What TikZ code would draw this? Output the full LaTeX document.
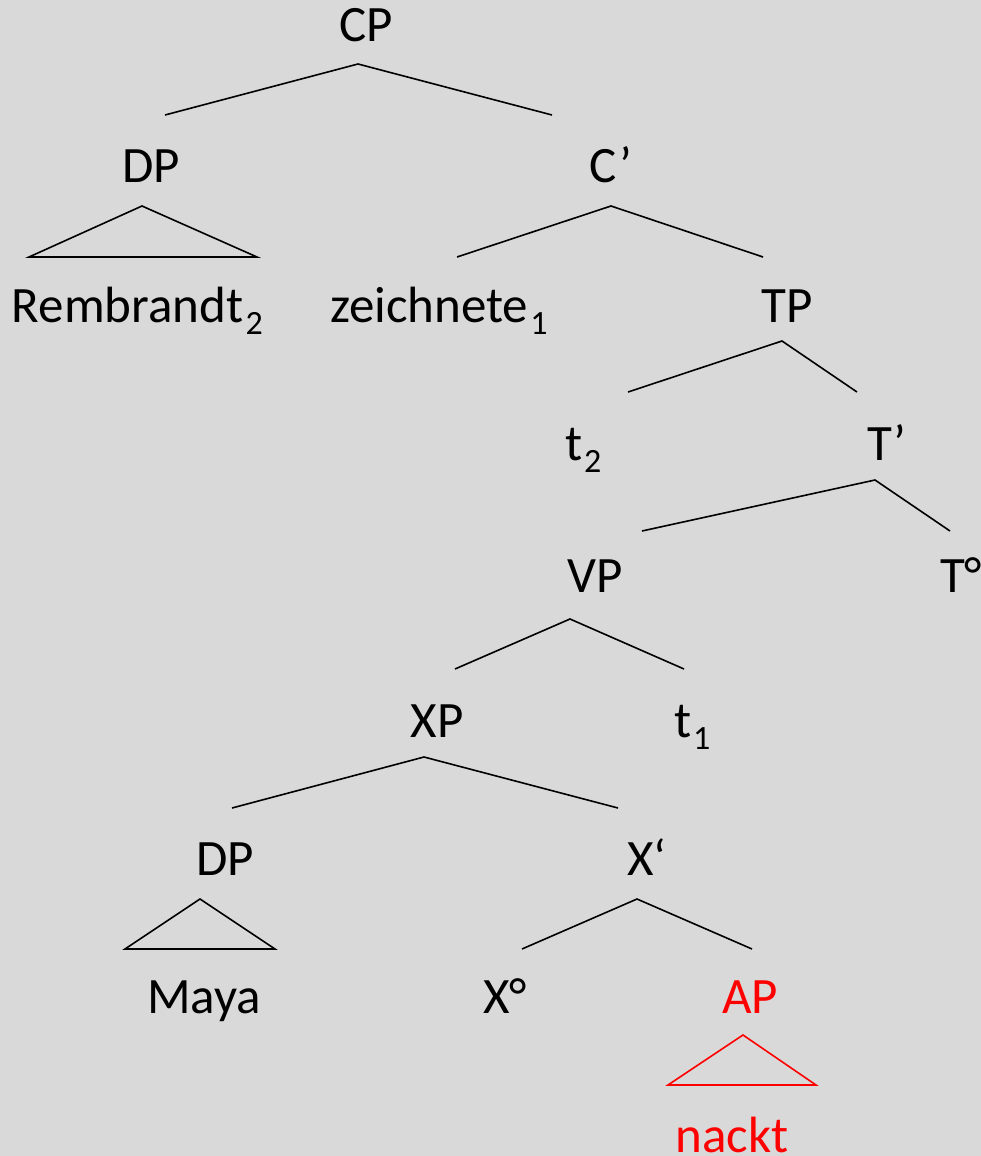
\documentclass[tikz,border=0pt]{standalone}
\usepackage{fontspec}
\setmainfont{Carlito}
\definecolor{bggray}{HTML}{D9D9D9}
\definecolor{apred}{HTML}{FF0000}
\newcommand\mysub[1]{\hspace{2pt}\raisebox{-12pt}{\fontsize{34}{36}\selectfont #1}}
\begin{document}
\begin{tikzpicture}[x=1pt,y=-1pt,
  lab/.style={inner sep=0pt, outer sep=0pt, anchor=base, font=\fontsize{51}{60}\selectfont},
  branch/.style={line width=1.6pt, line join=miter},
  redlab/.style={lab, text=apred},
  redbranch/.style={branch, draw=apred}]
\fill[bggray] (0,0) rectangle (981,1156);
\useasboundingbox (0,0) rectangle (981,1156);

% labels
\node[lab] (CP) at (366,42) {CP};
\node[lab] (DP1) at (151,182) {DP};
\node[lab] (Cbar) at (611,182) {C’};
\node[lab, anchor=base west] (Remb) at (12,322) {Rembrandt\mysub{2}};
\node[lab, anchor=base west] (zeich) at (330,322) {zeichnete\mysub{1}};
\node[lab] (TP) at (787,322) {TP};
\node[lab, anchor=base west] (t2) at (565,460) {t\mysub{2}};
\node[lab] (Tbar) at (887,460) {T’};
\node[lab] (VP) at (595,592) {VP};
\node[lab, anchor=base west] (Tdeg) at (940,592) {T°};
\node[lab] (XP) at (437,737) {XP};
\node[lab, anchor=base west] (t1) at (674,737) {t\mysub{1}};
\node[lab] (DP2) at (225,875) {DP};
\node[lab] (Xbar) at (647,875) {X‘};
\node[lab] (Maya) at (204,1013) {Maya};
\node[lab] (Xdeg) at (505,1013) {X°};
\node[redlab] (AP) at (750,1013) {AP};
\node[redlab] (nackt) at (732,1152) {nackt};

% branch points
\coordinate (CP-a) at (358,64);  \coordinate (CP-l) at (165,115); \coordinate (CP-r) at (552,115);
\coordinate (C-a) at (611,206);  \coordinate (C-l) at (457,257);  \coordinate (C-r) at (763,257);
\coordinate (DP1-a) at (142,206); \coordinate (DP1-l) at (29,257); \coordinate (DP1-r) at (257,257);
\coordinate (TP-a) at (782,341); \coordinate (TP-l) at (628,392); \coordinate (TP-r) at (857,392);
\coordinate (T-a) at (875,480);  \coordinate (T-l) at (642,531);  \coordinate (T-r) at (950,531);
\coordinate (VP-a) at (570,619); \coordinate (VP-l) at (455,669); \coordinate (VP-r) at (684,669);
\coordinate (XP-a) at (424,757); \coordinate (XP-l) at (232,808); \coordinate (XP-r) at (618,808);
\coordinate (DP2-a) at (200,899); \coordinate (DP2-l) at (125,949); \coordinate (DP2-r) at (275,949);
\coordinate (X-a) at (637,899);  \coordinate (X-l) at (522,949);  \coordinate (X-r) at (752,949);
\coordinate (AP-a) at (743,1035); \coordinate (AP-l) at (668,1085); \coordinate (AP-r) at (816,1085);

% branches
\draw[branch] (CP-l) -- (CP-a) -- (CP-r);
\draw[branch] (C-l) -- (C-a) -- (C-r);
\draw[branch] (DP1-l) -- (DP1-a) -- (DP1-r) -- cycle;
\draw[branch] (TP-l) -- (TP-a) -- (TP-r);
\draw[branch] (T-l) -- (T-a) -- (T-r);
\draw[branch] (VP-l) -- (VP-a) -- (VP-r);
\draw[branch] (XP-l) -- (XP-a) -- (XP-r);
\draw[branch] (DP2-l) -- (DP2-a) -- (DP2-r) -- cycle;
\draw[branch] (X-l) -- (X-a) -- (X-r);
\draw[redbranch] (AP-l) -- (AP-a) -- (AP-r) -- cycle;
\end{tikzpicture}
\end{document}
